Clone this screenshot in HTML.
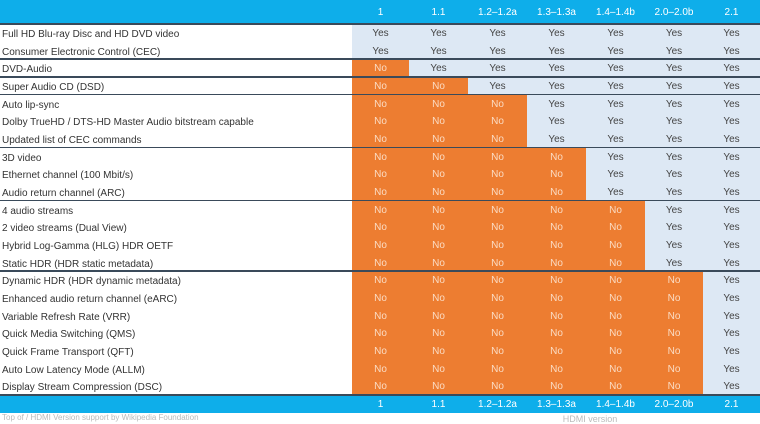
<!DOCTYPE html><html><head><style>
body{margin:0;width:760px;height:420px;overflow:hidden;background:#fff;font-family:"Liberation Sans",sans-serif;position:relative}
.hd{position:absolute;left:0;width:760px;background:#0eaeea;color:#fff;font-size:10px}
.c{position:absolute;text-align:center;font-size:10px}
.l{position:absolute;left:2px;font-size:10px;color:#333}
.ln{position:absolute;left:0;width:760px;height:2px;background:#3a4a5a}
</style></head><body>
<div class="hd" style="top:0;height:24px"></div>
<div class="hd" style="top:395px;height:18px"></div>
<div class="c" style="left:540px;width:100px;top:-8px;color:#dff;font-size:10px">HDMI version</div>
<div class="c" style="left:540px;width:100px;top:414px;color:#bbb;font-size:9px">HDMI version</div>
<div class="l" style="top:413px;color:#bbb;font-size:8px">Top of / HDMI Version support by Wikipedia Foundation</div>
<div id="t"></div>
<script>
const rows=[["Full HD Blu-ray Disc and HD DVD video",0],["Consumer Electronic Control (CEC)",0],["DVD-Audio",1],["Super Audio CD (DSD)",2],["Auto lip-sync",3],["Dolby TrueHD / DTS-HD Master Audio bitstream capable",3],["Updated list of CEC commands",3],["3D video",4],["Ethernet channel (100 Mbit/s)",4],["Audio return channel (ARC)",4],["4 audio streams",5],["2 video streams (Dual View)",5],["Hybrid Log-Gamma (HLG) HDR OETF",5],["Static HDR (HDR static metadata)",5],["Dynamic HDR (HDR dynamic metadata)",6],["Enhanced audio return channel (eARC)",6],["Variable Refresh Rate (VRR)",6],["Quick Media Switching (QMS)",6],["Quick Frame Transport (QFT)",6],["Auto Low Latency Mode (ALLM)",6],["Display Stream Compression (DSC)",6]];
const xs=[352,409,468,527,586,645,703,760],hdr=["1","1.1","1.2–1.2a","1.3–1.3a","1.4–1.4b","2.0–2.0b","2.1"];
const seps=[2,3,4,7,10,14];let h="";const rh=371/21;
hdr.forEach((s,i)=>{h+=`<div class="c" style="left:${xs[i]}px;width:${xs[i+1]-xs[i]}px;top:7px;color:#fff">${s}</div><div class="c" style="left:${xs[i]}px;width:${xs[i+1]-xs[i]}px;top:399px;color:#fff">${s}</div>`});
rows.forEach((r,j)=>{const y=24+j*rh;h+=`<div class="l" style="top:${y+5}px">${r[0]}</div>`;
for(let i=0;i<7;i++){const no=i<r[1];h+=`<div class="c" style="left:${xs[i]}px;width:${xs[i+1]-xs[i]}px;top:${y}px;height:${rh+0.5}px;line-height:${rh+2}px;background:${no?'#ed7d31':'#dde8f4'};color:${no?'#fbdcc4':'#444'}">${no?'No':'Yes'}</div>`}});
seps.forEach(k=>{h+=`<div class="ln" style="top:${24+k*rh-1}px;height:1.5px"></div>`});
h+=`<div class="ln" style="top:23px"></div><div class="ln" style="top:394px"></div>`;
document.getElementById('t').innerHTML=h;
</script></body></html>
